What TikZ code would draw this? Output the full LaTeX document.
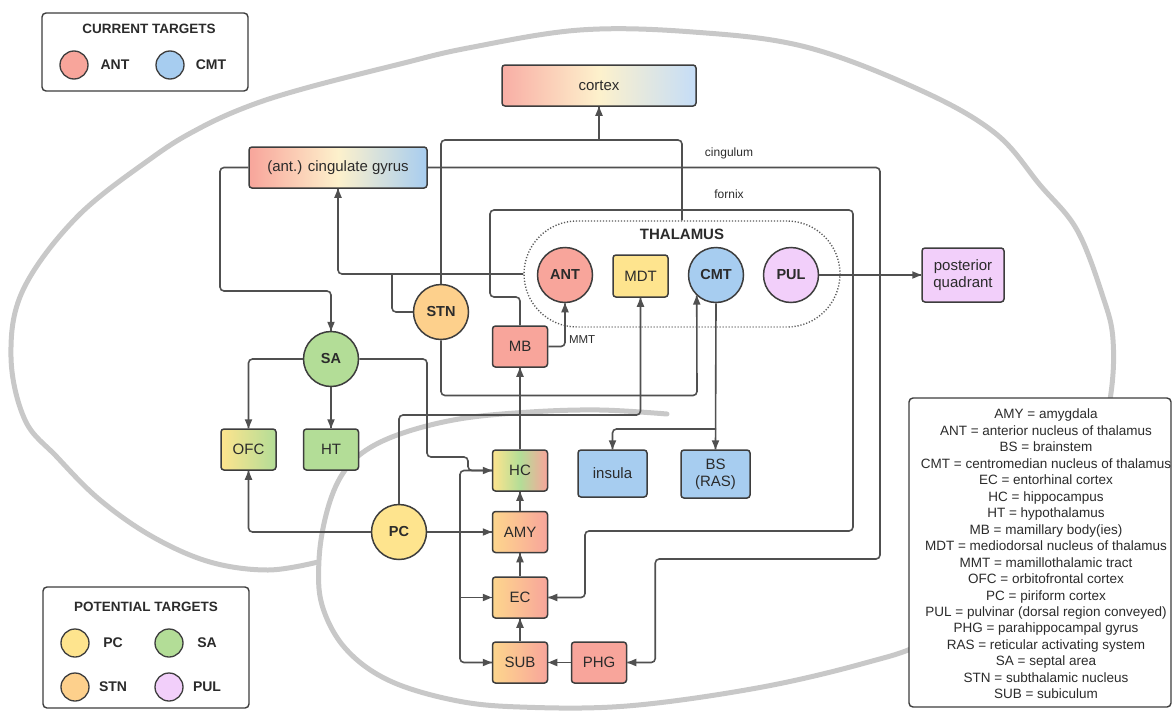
\documentclass[tikz,border=0pt]{standalone}
\usepackage{fontspec}
\setmainfont{Liberation Sans}
\usetikzlibrary{calc}
\definecolor{bordc}{HTML}{3D3D3D}
\definecolor{linec}{HTML}{505050}
\definecolor{txt}{HTML}{2B2B2B}
\definecolor{brain}{HTML}{C8C8C8}
\definecolor{cred}{HTML}{F8A59B}
\definecolor{cblue}{HTML}{A7CDF0}
\definecolor{cyel}{HTML}{FEE48E}
\definecolor{cgreen}{HTML}{B3DD97}
\definecolor{corange}{HTML}{FDD08C}
\definecolor{cpink}{HTML}{F2CFFA}
\definecolor{ccream}{HTML}{FDF1CC}
\definecolor{cltblue}{HTML}{C5DDF7}
% arrow heads (y axis points down)
\newcommand{\tipR}[1]{\fill[linec] (#1) -- ++(-9,-3.8) -- ++(0,7.6) -- cycle;}
\newcommand{\tipL}[1]{\fill[linec] (#1) -- ++(9,-3.8) -- ++(0,7.6) -- cycle;}
\newcommand{\tipU}[1]{\fill[linec] (#1) -- ++(-3.8,9) -- ++(7.6,0) -- cycle;}
\newcommand{\tipD}[1]{\fill[linec] (#1) -- ++(-3.8,-9) -- ++(7.6,0) -- cycle;}
\begin{document}
\begin{tikzpicture}[x=1pt,y=-1pt,
  nbox/.style={draw=bordc,line width=1.5pt,rounded corners=3pt,inner sep=0pt,align=center,text=txt,font=\fontsize{15}{17}\selectfont,minimum width=55pt,minimum height=41pt},
  circ/.style={circle,draw=bordc,line width=1.5pt,inner sep=0pt,minimum size=55pt,text=txt,font=\bfseries\fontsize{14.5}{17}\selectfont},
  lcirc/.style={circle,draw=bordc,line width=1.3pt,inner sep=0pt,minimum size=28pt},
  ltxt/.style={text=txt,font=\bfseries\fontsize{14}{17}\selectfont},
  ttl/.style={text=txt,font=\bfseries\fontsize{13.5}{16}\selectfont},
  tinytxt/.style={text=txt,font=\fontsize{12}{14}\selectfont},
  conn/.style={draw=linec,line width=1.6pt,rounded corners=4pt},
  legbox/.style={draw=bordc,line width=1.4pt,rounded corners=4pt,fill=white,inner sep=0pt},
]
\useasboundingbox (0,0) rectangle (1172,712);

% brain outline
\draw[brain,line width=5pt,line cap=round] plot[smooth,tension=0.6] coordinates {
(667,414) (600,410) (530,412) (459,419) (400,434) (362,453) (340,478) (326,515) (319,560) (322,605) (345,648) (388,680) (453,700) (520,707) (627,706) (757,688) (865,663) (930,640) (1030,580) (1090,490) (1110,400) (1113,340) (1103,297) (1077,230) (1040,185) (995,133) (920,90) (806,47) (693,32) (580,30) (468,48) (400,64) (306,88) (249,106) (200,128) (153,157) (77,217) (23,290) (11,357) (25,420) (57,457) (100,500) (153,537) (210,562) (268,570) (318,562)};

% legends
\node[legbox,minimum width=206pt,minimum height=78pt] (leg1) at (145,52) {};
\node[ttl] (leg1t) at (149,29) {CURRENT TARGETS};
\node[lcirc,fill=cred] (l1a) at (74,65) {};
\node[ltxt] (l1at) at (115,65) {ANT};
\node[lcirc,fill=cblue] (l1b) at (170,65) {};
\node[ltxt] (l1bt) at (211,65) {CMT};

\node[legbox,minimum width=206pt,minimum height=121pt] (leg2) at (146,647.5) {};
\node[ttl] (leg2t) at (146,607) {POTENTIAL TARGETS};
\node[lcirc,fill=cyel] (l2a) at (75,643) {};
\node[ltxt] (l2at) at (113,643) {PC};
\node[lcirc,fill=cgreen] (l2b) at (169,643) {};
\node[ltxt] (l2bt) at (207,643) {SA};
\node[lcirc,fill=corange] (l2c) at (75,687) {};
\node[ltxt] (l2ct) at (113,687) {STN};
\node[lcirc,fill=cpink] (l2d) at (169,687) {};
\node[ltxt] (l2dt) at (207,687) {PUL};

\node[legbox,minimum width=262pt,minimum height=309pt] (leg3) at (1040,552.5) {};
\node[text=txt,align=center,font=\fontsize{13.5}{16.47}\selectfont] (leg3t) at (1046,554) {AMY = amygdala\\ANT = anterior nucleus of thalamus\\BS = brainstem\\CMT = centromedian nucleus of thalamus\\EC = entorhinal cortex\\HC = hippocampus\\HT = hypothalamus\\MB = mamillary body(ies)\\MDT = mediodorsal nucleus of thalamus\\MMT = mamillothalamic tract\\OFC = orbitofrontal cortex\\PC = piriform cortex\\PUL = pulvinar (dorsal region conveyed)\\PHG = parahippocampal gyrus\\RAS = reticular activating system\\SA = septal area\\STN = subthalamic nucleus\\SUB = subiculum};

% main nodes
\node[nbox,minimum width=194pt,minimum height=41pt,left color=cred!90!white,right color=cltblue,middle color=ccream] (cortex) at (599,85.5) {cortex};
\node[nbox,minimum width=178pt,minimum height=41pt,left color=cred,right color=cblue,middle color=ccream] (cing) at (338,167.5) {(ant.) cingulate gyrus};
\node[draw=bordc!85,line width=1.4pt,dash pattern=on 1.2pt off 1.8pt,rounded corners=53pt,minimum width=316pt,minimum height=106pt,inner sep=0pt] (thal) at (682,274) {};
\node[ttl,font=\bfseries\fontsize{15}{17}\selectfont] (thalt) at (682,234) {THALAMUS};
\node[circ,fill=cred] (ANT) at (565,275) {ANT};
\node[nbox,fill=cyel,minimum height=42pt] (MDT) at (640.5,276) {MDT};
\node[circ,fill=cblue] (CMT) at (716,275) {CMT};
\node[circ,fill=cpink] (PUL) at (791,275) {PUL};
\node[nbox,fill=cpink,minimum width=82pt,minimum height=54pt] (post) at (963,275) {posterior\\quadrant};
\node[circ,fill=corange] (STN) at (441,312) {STN};
\node[circ,fill=cgreen] (SA) at (331,359) {SA};
\node[nbox,fill=cred] (MB) at (520,346.5) {MB};
\node[nbox,left color=cyel,right color=cgreen] (OFC) at (248.5,449.5) {OFC};
\node[nbox,fill=cgreen] (HT) at (331,449.5) {HT};
\node[nbox,left color=cyel,right color=cred,middle color=cgreen] (HC) at (520,470.5) {HC};
\node[nbox,left color=corange!70!cyel,right color=cred] (AMY) at (520,532) {AMY};
\node[nbox,left color=corange!70!cyel,right color=cred] (EC) at (520,597.5) {EC};
\node[nbox,left color=corange!70!cyel,right color=cred] (SUB) at (520,662.5) {SUB};
\node[nbox,fill=cred] (PHG) at (599,662.5) {PHG};
\node[circ,fill=cyel] (PC) at (399,532) {PC};
\node[nbox,fill=cblue,minimum width=69pt,minimum height=47pt] (insula) at (612.5,473.5) {insula};
\node[nbox,fill=cblue,minimum width=69pt,minimum height=48pt] (BS) at (715.5,474) {BS\\(RAS)};

\node[tinytxt] (cingl) at (729,153) {cingulum};
\node[tinytxt] (fornl) at (729,194) {fornix};
\node[tinytxt,anchor=west,font=\fontsize{11.5}{14}\selectfont] (mmt) at (565.5,340) {MMT};

% connectors
\coordinate (cx) at (599,140);
\draw[conn] (STN.north) |- (cx) -| (thal.north);
\draw[conn] (cx) -- (cortex.south); \tipU{cortex.south}
% cingulum
\draw[conn] (cing.east) -| (880,559) -| ([xshift=28pt]PHG.east) -- (PHG.east); \tipL{PHG.east}
% fornix
\draw[conn] (MB.north) |- (490,297) |- (853,210) |- (585,531) |- (EC.east); \tipL{EC.east}
% ANT / STN -> cingulate
\draw[conn] (thal.west) -| (cing.south); \tipU{cing.south}
\draw[conn] (STN.west) -| (392,274);
% cingulate -> SA
\draw[conn] (cing.west) -| (220,291) -| (SA.north); \tipD{SA.north}
% SA
\draw[conn] (SA.west) -| (OFC.north); \tipD{OFC.north}
\draw[conn] (SA.south) -- (HT.north); \tipD{HT.north}
\draw[conn] (SA.east) -| (427,457) -| (468,470.5) -- (HC.west); \tipR{HC.west}
% PC
\draw[conn] (PC.west) -| (OFC.south); \tipU{OFC.south}
\draw[conn] (PC.east) -- (AMY.west); \tipR{AMY.west}
\coordinate (bus) at (460,532);
\draw[conn] (bus) |- (HC.west);
\draw[conn] (bus) |- (SUB.west); \tipR{SUB.west}
\draw[conn] (bus |- EC.west) -- (EC.west); \tipR{EC.west}
\draw[conn] (PC.north) |- (520,415) -| (MDT.south); \tipU{MDT.south}
% STN -> CMT
\coordinate (c1) at (697,395.5);
\draw[conn] (STN.south) |- (c1) -- (CMT.227); \tipU{CMT.227}
% MMT
\draw[conn] (MB.east) -| (ANT.south); \tipU{ANT.south}
% hippocampal chain
\draw[conn] (HC.north) -- (MB.south); \tipU{MB.south}
\draw[conn] (AMY.north) -- (HC.south); \tipU{HC.south}
\draw[conn] (EC.north) -- (AMY.south); \tipU{AMY.south}
\draw[conn] (SUB.north) -- (EC.south); \tipU{EC.south}
\draw[conn] (PHG.west) -- (SUB.east); \tipL{SUB.east}
% CMT outputs
\draw[conn] (CMT.south) -- (BS.north); \tipD{BS.north}
\coordinate (cb) at (716,429);
\draw[conn] (cb) -| (insula.north); \tipD{insula.north}
\draw[conn] (PUL.east) -- (post.west); \tipR{post.west}
\end{tikzpicture}
\end{document}
